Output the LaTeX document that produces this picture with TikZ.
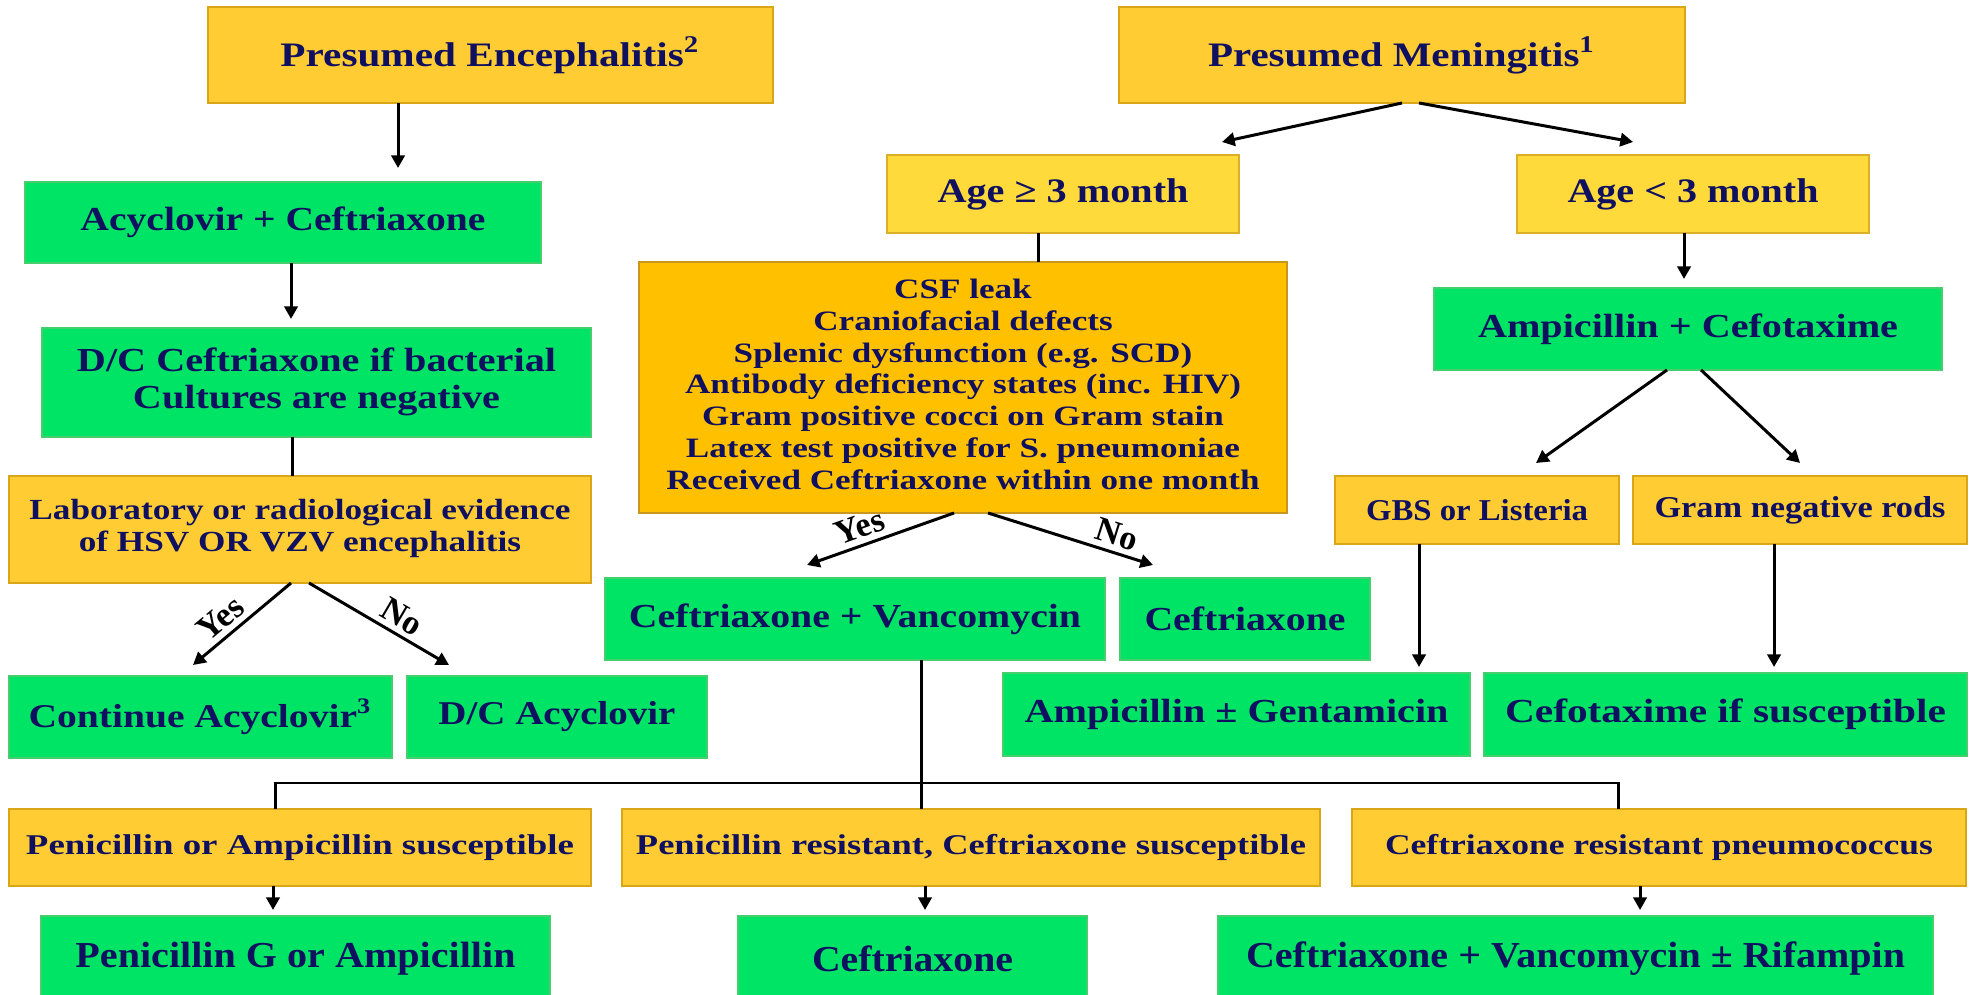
\documentclass[tikz,border=0pt]{standalone}
\usepackage{fontspec}
\setmainfont{Liberation Serif}
\usepackage{graphicx}
\usetikzlibrary{arrows.meta}

\newlength\px
\setlength\px{0.01cm}
% text stretched to a given width (in px), slightly taller than natural
\newcommand\fw[2]{\resizebox{#1\px}{1.05\height}{#2}}
% box from top-left (x1,y1) to bottom-right (x2,y2)
\newcommand\bx[7]{\node[#1, anchor=north west, minimum width={(#5-#3)*\px}, minimum height={(#6-#4)*\px}] (#2) at (#3,#4) {#7};}

\definecolor{ink}{RGB}{16,16,96}
\definecolor{gfill}{RGB}{0,228,102}
\definecolor{gline}{RGB}{70,205,110}
\definecolor{yfill}{RGB}{255,204,51}
\definecolor{yline}{RGB}{216,166,22}
\definecolor{afill}{RGB}{255,218,58}
\definecolor{aline}{RGB}{220,175,40}
\definecolor{ofill}{RGB}{255,192,0}
\definecolor{oline}{RGB}{200,152,30}

\tikzset{
  box/.style={draw, line width=0.45pt, inner sep=0pt, outer sep=0pt, text=ink, align=center},
  grn/.style={box, fill=gfill, draw=gline},
  gold/.style={box, fill=yfill, draw=yline},
  lite/.style={box, fill=afill, draw=aline},
  orng/.style={box, fill=ofill, draw=oline},
  fa/.style={font=\bfseries\fontsize{9.3}{11}\selectfont},
  fb/.style={font=\bfseries\fontsize{9.1}{10}\selectfont},
  fc/.style={font=\bfseries\fontsize{7.9}{8.7}\selectfont},
  fd/.style={font=\bfseries\fontsize{9.0}{10.5}\selectfont},
  fe/.style={font=\bfseries\fontsize{7.6}{8.62}\selectfont},
  ff/.style={font=\bfseries\fontsize{8.2}{10}\selectfont},
  fg/.style={font=\bfseries\fontsize{7.75}{9}\selectfont},
  fh/.style={font=\bfseries\fontsize{9.9}{11}\selectfont},
  ln/.style={line width=0.85pt, black},
  arr/.style={ln, -{Triangle[length=3.6pt,width=3.8pt]}},
  lbl/.style={font=\bfseries\fontsize{9.8}{11}\selectfont, text=black, sloped, above, inner sep=1.5pt}
}

\begin{document}
\begin{tikzpicture}[x=0.01cm, y=-0.01cm]
\clip (0,0) rectangle (1977,995);
\fill[white] (0,0) rectangle (1977,995);

% encephalitis branch
\bx{gold,fa}{enc}{208}{7}{773}{103}{\fw{420}{Presumed Encephalitis\textsuperscript{2}}}
\bx{grn,fb}{acy}{25}{182}{541}{263}{\fw{405}{Acyclovir + Ceftriaxone}}
\bx{grn,fb}{dc}{42}{328}{591}{437}{\fw{479}{\begin{tabular}{@{}c@{}}D/C Ceftriaxone if bacterial\\Cultures are negative\end{tabular}}}
\bx{gold,fc}{lab}{9}{476}{591}{583}{\fw{541}{\begin{tabular}{@{}c@{}}Laboratory or radiological evidence\\of HSV OR VZV encephalitis\end{tabular}}}
\bx{grn,fd}{cont}{9}{676}{392}{758}{\fw{344}{Continue Acyclovir\textsuperscript{3}}}
\bx{grn,fd}{dca}{407}{676}{707}{758}{\fw{237}{D/C Acyclovir}}

% meningitis branch
\bx{gold,fa}{men}{1119}{7}{1685}{103}{\fw{388}{Presumed Meningitis\textsuperscript{1}}}
\bx{lite,fa}{age1}{887}{155}{1239}{233}{\fw{251}{Age ≥ 3 month}}
\bx{lite,fa}{age2}{1517}{155}{1869}{233}{\fw{251}{Age < 3 month}}
\bx{orng,fe}{csf}{639}{262}{1287}{513}{\fw{593}{\begin{tabular}{@{}c@{}}CSF leak\\Craniofacial defects\\Splenic dysfunction (e.g. SCD)\\Antibody deficiency states (inc. HIV)\\Gram positive cocci on Gram stain\\Latex test positive for S. pneumoniae\\Received Ceftriaxone within one month\end{tabular}}}
\bx{grn,fb}{cv}{605}{578}{1105}{660}{\fw{452}{Ceftriaxone + Vancomycin}}
\bx{grn,fb}{cef1}{1120}{578}{1370}{660}{\fw{201}{Ceftriaxone}}
\bx{grn,fb}{ampcef}{1434}{288}{1942}{370}{\fw{420}{Ampicillin + Cefotaxime}}
\bx{gold,ff}{gbs}{1335}{476}{1619}{544}{\fw{222}{GBS or Listeria}}
\bx{gold,ff}{gn}{1633}{476}{1967}{544}{\fw{291}{Gram negative rods}}
\bx{grn,fb}{ampgent}{1003}{673}{1470}{756}{\fw{424}{Ampicillin ± Gentamicin}}
\bx{grn,fb}{cefsus}{1484}{673}{1967}{756}{\fw{441}{Cefotaxime if susceptible}}

% susceptibility row
\bx{gold,fg}{pas}{9}{809}{591}{886}{\fw{548}{Penicillin or Ampicillin susceptible}}
\bx{gold,fg}{prcs}{622}{809}{1320}{886}{\fw{670}{Penicillin resistant, Ceftriaxone susceptible}}
\bx{gold,fg}{crp}{1352}{809}{1966}{886}{\fw{548}{Ceftriaxone resistant pneumococcus}}
\bx{grn,fh}{pga}{41}{916}{550}{1001}{\fw{440}{Penicillin G or Ampicillin}}
\bx{grn,fh}{cef2}{738}{916}{1087}{1001}{\fw{201}{Ceftriaxone}}
\bx{grn,fh}{cvr}{1218}{916}{1933}{1001}{\fw{659}{Ceftriaxone + Vancomycin ± Rifampin}}

% connectors: encephalitis
\draw[arr] ([xshift=-92.5\px]enc.south) -- ([xshift=115\px,yshift=14\px]acy.north);
\draw[arr] ([xshift=8\px]acy.south) -- ([xshift=-25.5\px,yshift=9\px]dc.north);
\draw[ln] ([xshift=-24.5\px]dc.south) -- ([xshift=-8\px]lab.north);
\draw[arr] ([xshift=-9\px]lab.south) -- node[lbl, pos=0.6] {Yes} ([xshift=-7.5\px,yshift=11\px]cont.north);
\draw[arr] ([xshift=9\px]lab.south) -- node[lbl, pos=0.6] {No} ([xshift=-108\px,yshift=11\px]dca.north);

% connectors: meningitis
\draw[arr] (men.south) -- ([xshift=159\px,yshift=13\px]age1.north);
\draw[arr] ([xshift=17\px]men.south) -- ([xshift=-60\px,yshift=13\px]age2.north);
\draw[ln] ([xshift=-25\px]age1.south) -- ([xshift=75\px]csf.north);
\draw[arr] ([xshift=-9\px]age2.south) -- ([xshift=-4\px,yshift=9\px]ampcef.north);
\draw[arr] ([xshift=-21\px]ampcef.south) -- ([xshift=59\px,yshift=13\px]gbs.north);
\draw[arr] ([xshift=13\px]ampcef.south) -- ([yshift=13\px]gn.north);
\draw[arr] ([xshift=-58\px]gbs.south) -- ([xshift=182.5\px,yshift=6\px]ampgent.north);
\draw[arr] ([xshift=-26\px]gn.south) -- ([xshift=48.5\px,yshift=6\px]cefsus.north);
\draw[arr] ([xshift=-9\px]csf.south) -- node[lbl, pos=0.6] {Yes} ([xshift=-48\px,yshift=13\px]cv.north);
\draw[arr] ([xshift=25\px]csf.south) -- node[lbl, pos=0.75] {No} ([xshift=-92\px,yshift=13\px]cef1.north);

% bus to the susceptibility row
\draw[ln] ([xshift=66\px]cv.south) -- ([xshift=-50\px]prcs.north);
\draw[ln] ([xshift=-25\px]pas.north) -- ++(0,-26) -| ([xshift=-41\px]crp.north);
\draw[arr] ([xshift=-27\px]pas.south) -- ([xshift=-22.5\px,yshift=6\px]pga.north);
\draw[arr] ([xshift=-46\px]prcs.south) -- ([xshift=12.5\px,yshift=6\px]cef2.north);
\draw[arr] ([xshift=-19\px]crp.south) -- ([xshift=64.5\px,yshift=6\px]cvr.north);
\end{tikzpicture}
\end{document}
